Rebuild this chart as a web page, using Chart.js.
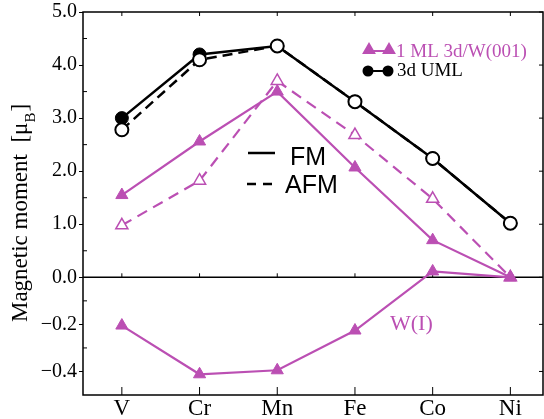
<!DOCTYPE html>
<html>
<head>
<meta charset="utf-8">
<script src="https://cdn.jsdelivr.net/npm/chart.js@4.4.0/dist/chart.umd.min.js"></script>
<style>
  body { margin: 0; background: #fff; }
  #wrap { width: 544px; height: 419px; }
</style>
</head>
<body>
<div id="wrap"><canvas id="myChart" width="544" height="419"></canvas></div>
<script>
// 3d elements along the row
const elements = ['V', 'Cr', 'Mn', 'Fe', 'Co', 'Ni'];

// unsupported 3d monolayers (3d UML)
const umlFM  = [3.00, 4.20, 4.36, 3.31, 2.24, 1.02];
const umlAFM = [2.78, 4.10, 4.36, 3.31, 2.24, 1.02];

// 1 ML 3d on W(001)
const wFM  = [1.55, 2.56, 3.50, 2.07, 0.70, 0.00];
const wAFM = [0.98, 1.82, 3.70, 2.68, 1.48, 0.00];

// induced moment of the interface W layer, W(I)
const wInterface = [-0.205, -0.412, -0.395, -0.226, 0.025, 0.00];

// tick values of the two stacked y ranges
const upperTicks = [0, 1, 2, 3, 4, 5];
const upperMinor = [0.5, 1.5, 2.5, 3.5, 4.5];
const lowerTicks = [-0.4, -0.2];
const lowerMinor = [-0.3, -0.1];

const MAGENTA = '#bb4fb3';
const SERIF = '"Liberation Serif", "DejaVu Serif", serif';
const SANS = '"Liberation Sans", Arial, sans-serif';

const pts = vals => vals.map((v, i) => ({x: i, y: v}));

// frame, zero line and the inward ticks
const framePlugin = {
  id: 'frame',
  beforeDatasetsDraw(chart) {
    const {ctx, chartArea: a, scales} = chart;
    const x = scales.x, yTop = scales.yTop, yLow = scales.yLow;
    const y0 = yTop.getPixelForValue(0);
    ctx.save();
    ctx.strokeStyle = '#000';
    ctx.lineWidth = 1.5;
    ctx.strokeRect(a.left, a.top, a.right - a.left, a.bottom - a.top);
    ctx.beginPath();
    ctx.moveTo(a.left, y0);
    ctx.lineTo(a.right, y0);
    ctx.stroke();

    ctx.lineWidth = 1;
    ctx.beginPath();
    elements.forEach((e, i) => {
      const px = x.getPixelForValue(i);
      ctx.moveTo(px, a.bottom); ctx.lineTo(px, a.bottom - 8);
      ctx.moveTo(px, y0); ctx.lineTo(px, y0 - 4);
      ctx.moveTo(px, a.top); ctx.lineTo(px, a.top + 4);
    });
    upperMinor.forEach(v => {
      const py = yTop.getPixelForValue(v);
      ctx.moveTo(a.left, py); ctx.lineTo(a.left + 4, py);
    });
    lowerMinor.forEach(v => {
      const py = yLow.getPixelForValue(v);
      ctx.moveTo(a.left, py); ctx.lineTo(a.left + 4, py);
    });
    upperTicks.forEach(v => {
      const py = yTop.getPixelForValue(v);
      ctx.moveTo(a.right, py); ctx.lineTo(a.right - 4, py);
    });
    lowerTicks.forEach(v => {
      const py = yLow.getPixelForValue(v);
      ctx.moveTo(a.right, py); ctx.lineTo(a.right - 4, py);
    });
    ctx.stroke();
    ctx.restore();
  }
};

// legends, labels and the y title
const textPlugin = {
  id: 'texts',
  afterDraw(chart) {
    const ctx = chart.ctx;
    const dp = Chart.helpers.drawPoint;
    ctx.save();

    // 1 ML 3d/W(001)
    ctx.strokeStyle = MAGENTA; ctx.fillStyle = MAGENTA; ctx.lineWidth = 2;
    ctx.beginPath(); ctx.moveTo(369, 51); ctx.lineTo(389, 51); ctx.stroke();
    dp(ctx, {pointStyle: 'triangle', radius: 6, rotation: 0, borderWidth: 1}, 369, 50);
    dp(ctx, {pointStyle: 'triangle', radius: 6, rotation: 0, borderWidth: 1}, 389, 50);
    ctx.font = '19px ' + SERIF;
    ctx.textBaseline = 'alphabetic';
    ctx.textAlign = 'left';
    ctx.fillText('1 ML 3d/W(001)', 396, 57);

    // 3d UML
    ctx.strokeStyle = '#000'; ctx.fillStyle = '#000';
    ctx.beginPath(); ctx.moveTo(368, 71); ctx.lineTo(388, 71); ctx.stroke();
    dp(ctx, {pointStyle: 'circle', radius: 4.5, rotation: 0, borderWidth: 1}, 368, 71);
    dp(ctx, {pointStyle: 'circle', radius: 4.5, rotation: 0, borderWidth: 1}, 388, 71);
    ctx.fillText('3d UML', 397, 76);

    // FM / AFM line styles
    ctx.lineWidth = 2.5;
    ctx.beginPath(); ctx.moveTo(248, 153); ctx.lineTo(275, 153); ctx.stroke();
    ctx.setLineDash([9, 7]);
    ctx.beginPath(); ctx.moveTo(247, 184); ctx.lineTo(275, 184); ctx.stroke();
    ctx.setLineDash([]);
    ctx.font = '25px ' + SANS;
    ctx.fillText('FM', 290, 165);
    ctx.fillText('AFM', 285, 193);

    // interface W label
    ctx.fillStyle = MAGENTA;
    ctx.font = '22px ' + SERIF;
    ctx.fillText('W(I)', 390, 330);

    // y title with subscript
    ctx.fillStyle = '#000';
    const main = 'Magnetic moment  [\u03bc';
    const bigFont = '23px ' + SERIF, subFont = '15px ' + SERIF;
    ctx.font = bigFont; const w1 = ctx.measureText(main).width; const w3 = ctx.measureText(']').width;
    ctx.font = subFont; const w2 = ctx.measureText('B').width;
    const total = w1 + w2 + w3 + 1;
    ctx.translate(27, 213 + total / 2);
    ctx.rotate(-Math.PI / 2);
    ctx.font = bigFont; ctx.fillText(main, 0, 0);
    ctx.font = subFont; ctx.fillText('B', w1, 8);
    ctx.font = bigFont; ctx.fillText(']', w1 + w2 + 1, 0);
    ctx.restore();
  }
};

const ctx = document.getElementById('myChart').getContext('2d');
const myChart = new Chart(ctx, {
  type: 'line',
  data: {
    datasets: [
      {
        label: '3d UML AFM', data: pts(umlAFM), yAxisID: 'yTop', order: 1,
        borderColor: '#000', borderWidth: 2.5, borderDash: [10, 6],
        pointStyle: 'circle', pointRadius: 6.5, pointBorderWidth: 2,
        pointBackgroundColor: '#fff', pointBorderColor: '#000'
      },
      {
        label: '3d UML FM', data: pts(umlFM), yAxisID: 'yTop', order: 2,
        borderColor: '#000', borderWidth: 2.5,
        pointStyle: 'circle', pointRadius: 6.5, pointBorderWidth: 1,
        pointBackgroundColor: '#000', pointBorderColor: '#000'
      },
      {
        label: '1 ML 3d/W(001) FM', data: pts(wFM), yAxisID: 'yTop', order: 3,
        borderColor: MAGENTA, borderWidth: 2.2,
        pointStyle: 'triangle', pointRadius: 7, pointBorderWidth: 1,
        pointBackgroundColor: MAGENTA, pointBorderColor: MAGENTA
      },
      {
        label: '1 ML 3d/W(001) AFM', data: pts(wAFM), yAxisID: 'yTop', order: 4,
        borderColor: MAGENTA, borderWidth: 2.2, borderDash: [11, 7],
        pointStyle: 'triangle', pointRadius: 7, pointBorderWidth: 1.5,
        pointBackgroundColor: '#fff', pointBorderColor: MAGENTA
      },
      {
        label: 'W(I)', data: pts(wInterface), yAxisID: 'yLow', order: 3,
        borderColor: MAGENTA, borderWidth: 2.2,
        pointStyle: 'triangle', pointRadius: 7, pointBorderWidth: 1,
        pointBackgroundColor: MAGENTA, pointBorderColor: MAGENTA
      }
    ]
  },
  options: {
    responsive: false,
    animation: false,
    clip: false,
    layout: { autoPadding: false, padding: { top: 11, right: 1, left: 0, bottom: 0 } },
    plugins: { legend: { display: false }, tooltip: { enabled: false } },
    scales: {
      x: {
        type: 'linear', min: -0.5, max: 5.42,
        afterBuildTicks: s => { s.ticks = elements.map((e, i) => ({value: i})); },
        afterFit: s => { s.height = 24; },
        ticks: {
          callback: v => elements[v],
          color: '#000', padding: 2, maxRotation: 0,
          font: { family: SERIF, size: 23, lineHeight: 1 }
        },
        grid: { display: false, drawTicks: false },
        border: { display: false }
      },
      yLow: {
        type: 'linear', position: 'left', stack: 'y', stackWeight: 118,
        min: -0.5, max: 0,
        afterBuildTicks: s => { s.ticks = lowerTicks.map(v => ({value: v})); },
        afterFit: s => { s.width = 83; },
        ticks: {
          callback: v => '\u2212' + Math.abs(v).toFixed(1),
          color: '#000', padding: 2,
          font: { family: SERIF, size: 20, lineHeight: 1 }
        },
        grid: { drawOnChartArea: false, tickLength: 4, color: '#000', lineWidth: 1 },
        border: { display: false }
      },
      yTop: {
        type: 'linear', position: 'left', stack: 'y', stackWeight: 266,
        min: 0, max: 5,
        afterBuildTicks: s => { s.ticks = upperTicks.map(v => ({value: v})); },
        afterFit: s => { s.width = 83; },
        ticks: {
          callback: v => v.toFixed(1),
          color: '#000', padding: 2,
          font: { family: SERIF, size: 20, lineHeight: 1 }
        },
        grid: { drawOnChartArea: false, tickLength: 4, color: '#000', lineWidth: 1 },
        border: { display: false }
      }
    }
  },
  plugins: [framePlugin, textPlugin]
});
</script>
</body>
</html>
